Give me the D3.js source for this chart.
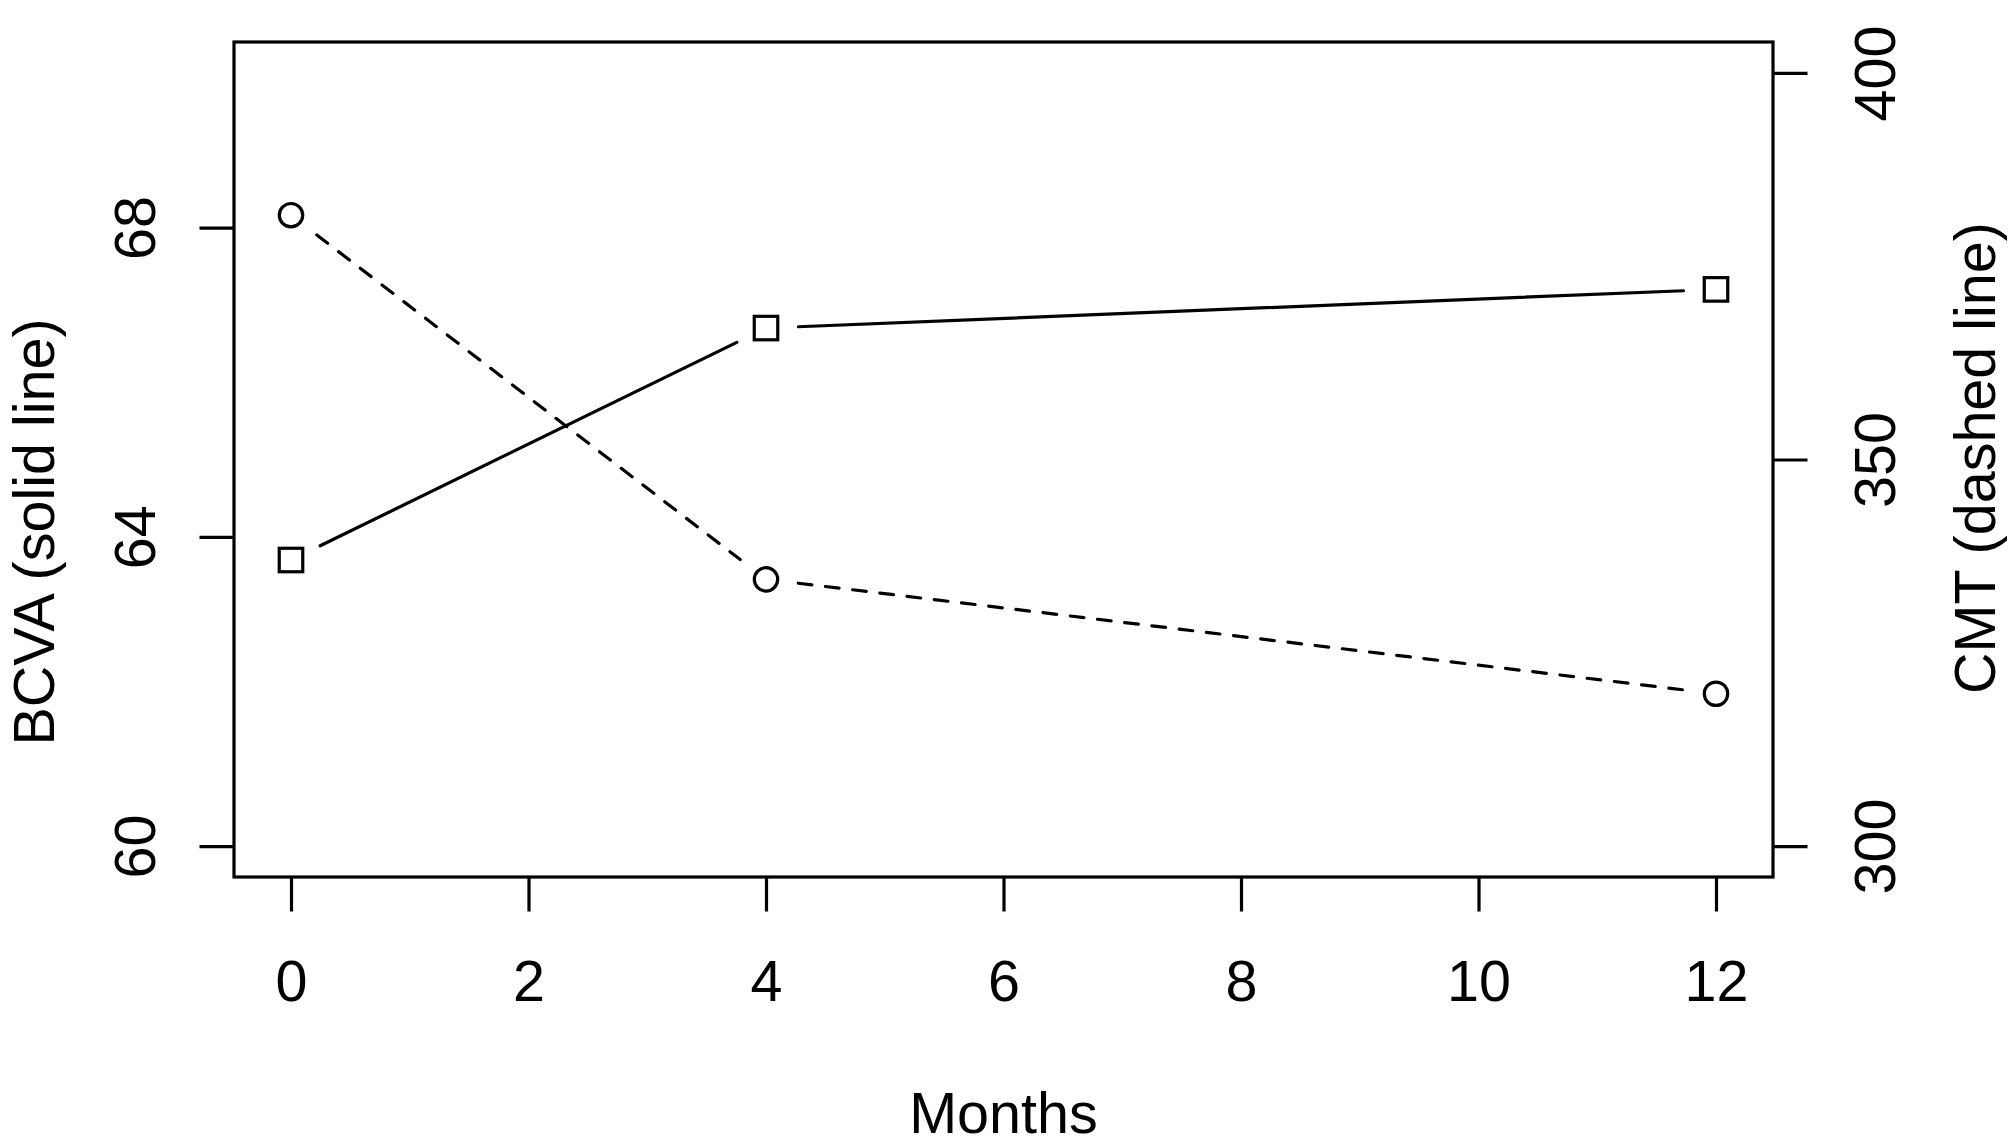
<!DOCTYPE html>
<html>
<head>
<meta charset="utf-8">
<script src="https://cdn.jsdelivr.net/npm/d3@7"></script>
<style>
  html, body { margin: 0; padding: 0; background: #fff; }
  svg { display: block; }
  text { font-family: "Liberation Sans", Arial, Helvetica, sans-serif; fill: #000; }
</style>
</head>
<body>
<script>
// ---- data ----
const months = [0, 4, 12];
const bcva = [63.7, 66.7, 67.2];        // solid line, squares, left axis
const cmt = [381.6, 334.5, 319.7];      // dashed line, circles, right axis
const xTicks = [0, 2, 4, 6, 8, 10, 12];
const bcvaTicks = [60, 64, 68];
const cmtTicks = [300, 350, 400];
const xLabel = "Months";
const leftLabel = "BCVA (solid line)";
const rightLabel = "CMT (dashed line)";

// ---- layout ----
const W = 2008, H = 1146;
const L = 234, R = 1773, T = 42, B = 877;
const fontSize = 57.5;
const lw = 3.2;
const tickLen = 34.5;
const gap = 32.5;

const svg = d3.select("body").append("svg")
  .attr("width", W).attr("height", H)
  .attr("viewBox", `0 0 ${W} ${H}`);
svg.append("rect").attr("width", W).attr("height", H).attr("fill", "#fff");

// R-style 4% axis expansion
function expand(lo, hi) { const d = (hi - lo) * 0.04; return [lo - d, hi + d]; }
const x = d3.scaleLinear().domain(expand(0, 12)).range([L, R]);
const yL = d3.scaleLinear().domain(expand(60, 70)).range([B, T]);
const yR = d3.scaleLinear().domain(expand(300, 400)).range([B, T]);

// ---- axes ----
const xAxis = svg.append("g").attr("transform", `translate(0,${B})`)
  .call(d3.axisBottom(x).tickValues(xTicks).tickSize(tickLen).tickPadding(0).tickFormat(d3.format("d")));
xAxis.select(".domain").remove();
xAxis.selectAll(".tick line").attr("stroke", "#000").attr("stroke-width", lw);
xAxis.selectAll(".tick text")
  .attr("y", 1001 - B).attr("dy", null)
  .attr("font-size", fontSize).attr("fill", "#000");

const lAxis = svg.append("g").attr("transform", `translate(${L},0)`)
  .call(d3.axisLeft(yL).tickValues(bcvaTicks).tickSize(tickLen).tickFormat(d3.format("d")));
lAxis.select(".domain").remove();
lAxis.selectAll(".tick line").attr("stroke", "#000").attr("stroke-width", lw);
lAxis.selectAll(".tick text")
  .attr("x", null).attr("dy", null)
  .attr("text-anchor", "middle")
  .attr("transform", `translate(${155 - L},0) rotate(-90)`)
  .attr("font-size", fontSize).attr("fill", "#000");

const rAxis = svg.append("g").attr("transform", `translate(${R},0)`)
  .call(d3.axisRight(yR).tickValues(cmtTicks).tickSize(tickLen).tickFormat(d3.format("d")));
rAxis.select(".domain").remove();
rAxis.selectAll(".tick line").attr("stroke", "#000").attr("stroke-width", lw);
rAxis.selectAll(".tick text")
  .attr("x", null).attr("dy", null)
  .attr("text-anchor", "middle")
  .attr("transform", `translate(${1895 - R},0) rotate(-90)`)
  .attr("font-size", fontSize).attr("fill", "#000");

// ---- box ----
svg.append("rect")
  .attr("x", L).attr("y", T).attr("width", R - L).attr("height", B - T)
  .attr("fill", "none").attr("stroke", "#000").attr("stroke-width", lw);

// ---- titles ----
svg.append("text").attr("x", (L + R) / 2).attr("y", 1133)
  .attr("text-anchor", "middle").attr("font-size", fontSize).text(xLabel);
svg.append("text").attr("transform", `translate(54,532) rotate(-90)`)
  .attr("text-anchor", "middle").attr("font-size", fontSize).text(leftLabel);
svg.append("text").attr("transform", `translate(1995,458) rotate(-90)`)
  .attr("text-anchor", "middle").attr("font-size", fontSize).text(rightLabel);

// ---- series (type = "b": segments with gaps around points) ----
function segments(xs, ys, yScale) {
  const pts = xs.map((v, i) => [x(v), yScale(ys[i])]);
  const segs = [];
  for (let i = 0; i < pts.length - 1; i++) {
    const [x0, y0] = pts[i], [x1, y1] = pts[i + 1];
    const dx = x1 - x0, dy = y1 - y0, len = Math.hypot(dx, dy);
    const ux = dx / len, uy = dy / len;
    segs.push([[x0 + ux * gap, y0 + uy * gap], [x1 - ux * gap, y1 - uy * gap]]);
  }
  return { pts, segs };
}
const line = d3.line();

const sB = segments(months, bcva, yL);
svg.append("g").selectAll("path").data(sB.segs).join("path")
  .attr("d", line).attr("fill", "none").attr("stroke", "#000")
  .attr("stroke-width", lw).attr("stroke-linecap", "round");
const sq = 23.5;
svg.append("g").selectAll("rect").data(sB.pts).join("rect")
  .attr("x", d => d[0] - sq / 2).attr("y", d => d[1] - sq / 2)
  .attr("width", sq).attr("height", sq)
  .attr("fill", "none").attr("stroke", "#000").attr("stroke-width", lw);

const sC = segments(months, cmt, yR);
svg.append("g").selectAll("path").data(sC.segs).join("path")
  .attr("d", line).attr("fill", "none").attr("stroke", "#000")
  .attr("stroke-width", lw).attr("stroke-linecap", "round")
  .attr("stroke-dasharray", "13.7 13.7");
svg.append("g").selectAll("circle").data(sC.pts).join("circle")
  .attr("cx", d => d[0]).attr("cy", d => d[1]).attr("r", 11.7)
  .attr("fill", "none").attr("stroke", "#000").attr("stroke-width", lw);
</script>
</body>
</html>
